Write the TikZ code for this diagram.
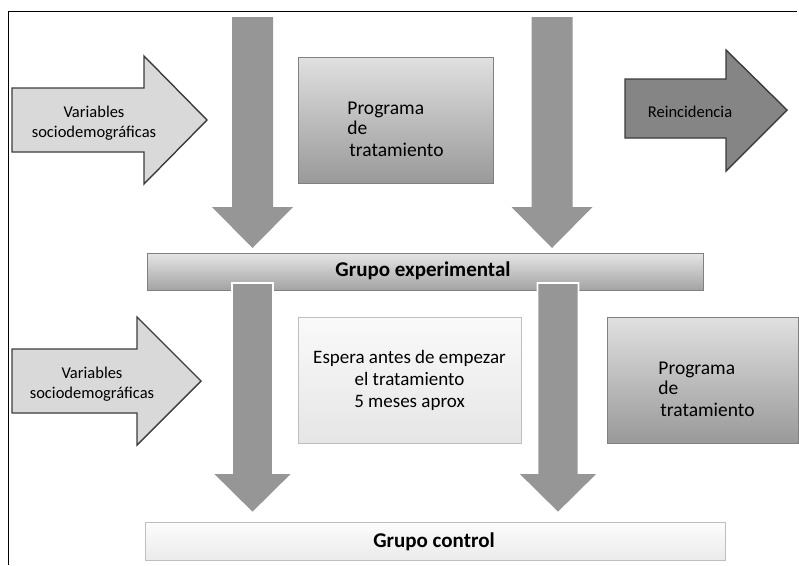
\documentclass[tikz,border=0pt]{standalone}
\usepackage{fontspec}
\setmainfont{Carlito}
\usetikzlibrary{positioning}
\definecolor{arrowgray}{RGB}{150,150,150}
\definecolor{varfill}{RGB}{217,217,217}
\definecolor{reinfill}{RGB}{133,133,133}
\definecolor{edgedark}{RGB}{60,60,60}
\definecolor{boxedge}{RGB}{128,128,128}
\definecolor{lightedge}{RGB}{190,190,190}

\begin{document}
\begin{tikzpicture}[
  x=1pt, y=-1pt,
  downarrow/.style={fill=arrowgray, draw=none},
  sidearrow/.style={fill=varfill, draw=edgedark, line width=1.4pt, line join=miter},
  outarrow/.style ={fill=reinfill, draw=edgedark, line width=1.4pt, line join=miter},
  progbox/.style={rectangle, draw=boxedge, top color=black!12, bottom color=black!40,
    inner sep=0pt},
  waitbox/.style={rectangle, draw=lightedge, top color=black!2, bottom color=black!10,
    inner sep=0pt},
  groupbar/.style={rectangle, draw=boxedge, top color=black!10, bottom color=black!36,
    inner sep=0pt},
  ctrlbar/.style={rectangle, draw=lightedge, top color=black!1, bottom color=black!8,
    inner sep=0pt},
  vartext/.style={font=\fontsize{16.5}{20}\selectfont, align=center},
  boxtext/.style={font=\fontsize{19.5}{20}\selectfont, align=left},
  bartext/.style={font=\fontsize{21}{24}\selectfont\bfseries}
]
\useasboundingbox (0,0) rectangle (799,565);

% Frame
\draw[line width=0.8pt] (797,11) -- (8,11) -- (8,565);

% Row 1 — Grupo experimental
\draw[sidearrow] (12,88) -- (144,88) -- (144,56) -- (207,120) -- (144,184)
  -- (144,152) -- (12,152) -- cycle;
\node[vartext] (var1) at (94,123) {Variables\\sociodemográficas};

\foreach \cx in {252.5, 552}
  \fill[downarrow] (\cx-20.5,17) -- (\cx+20.5,17) -- (\cx+20.5,207) -- (\cx+40.5,207)
    -- (\cx,248) -- (\cx-40.5,207) -- (\cx-20.5,207) -- cycle;

\node[progbox, minimum width=195pt, minimum height=126pt] (prog1) at (395.5,120) {};
\node[boxtext] (prog1txt) at (395.5,129) {Programa\\de\\[2pt]\hspace{2pt}tratamiento};

\draw[outarrow] (625,79) -- (726,79) -- (726,50) -- (787,110) -- (726,171)
  -- (726,138) -- (625,138) -- cycle;
\node[vartext] (reinc) at (690,112) {Reincidencia};

\node[groupbar, minimum width=556pt, minimum height=37pt] (exp) at (425,271.5) {};
\node[bartext] (exptxt) at (423,271) {Grupo experimental};

% Row 2 — Grupo control
\foreach \cx in {252.5, 558}
  \filldraw[downarrow, draw=white, line width=1.6pt] (\cx-20.5,283) -- (\cx+20.5,283)
    -- (\cx+20.5,473) -- (\cx+40.5,473) -- (\cx,513) -- (\cx-40.5,473)
    -- (\cx-20.5,473) -- cycle;

\draw[sidearrow] (12,349) -- (137,349) -- (137,317) -- (201,381) -- (137,445)
  -- (137,413) -- (12,413) -- cycle;
\node[vartext] (var2) at (92,384) {Variables\\sociodemográficas};

\node[waitbox, minimum width=223pt, minimum height=126pt, align=center,
  font=\fontsize{19}{22}\selectfont] (wait) at (409.5,380)
  {Espera antes de empezar\\el tratamiento\\5 meses aprox};

\node[progbox, minimum width=191pt, minimum height=126pt] (prog2) at (702.5,380) {};
\node[boxtext] (prog2txt) at (706.5,389) {Programa\\de\\[2pt]\hspace{2pt}tratamiento};

\node[ctrlbar, minimum width=580pt, minimum height=38pt] (ctrl) at (435,541) {};
\node[bartext] (ctrltxt) at (434,542) {Grupo control};

\end{tikzpicture}
\end{document}
